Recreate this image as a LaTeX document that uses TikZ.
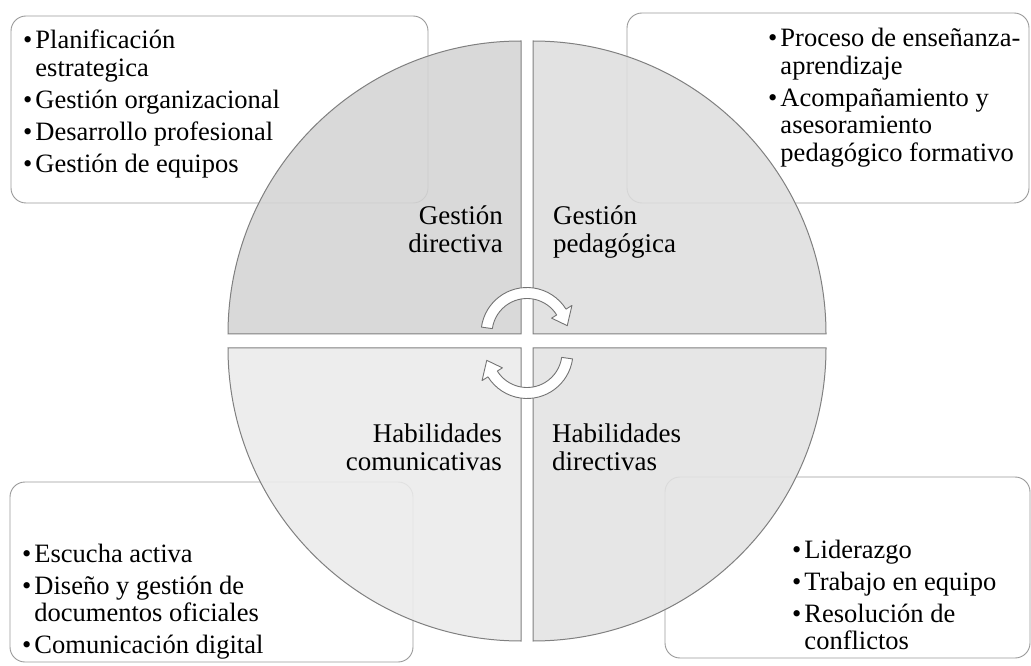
\documentclass[tikz,border=0pt]{standalone}
\usepackage{fontspec}
\setmainfont{Liberation Serif}

\tikzset{
  quadrant/.style={draw=black!50, line width=1pt, fill opacity=0.88},
  infobox/.style={draw=black!40, line width=0.9pt, fill=white, rounded corners=15pt},
  boxtext/.style={inner sep=0pt, anchor=base west, font=\fontsize{26.5}{27.5}\selectfont},
  quadlabel/.style={inner sep=0pt, font=\fontsize{27}{28}\selectfont},
  cyclearrow/.style={draw=black!55, line width=0.9pt, fill=white, line join=round},
}

% curved arrow around the centre of the circle
\newcommand{\cyclepath}{(172:46) arc[start angle=172, end angle=32, radius=46] -- (32:53) -- (11:41)
  -- (32:29) -- (32:35) arc[start angle=32, end angle=172, radius=35] -- cycle}

\begin{document}
\begin{tikzpicture}[x=1pt, y=1pt]
  \useasboundingbox (0,0) rectangle (1031,665);

  % boxes behind the circle
  \draw[infobox] (11,462) rectangle (428,649);
  \draw[infobox] (627,462) rectangle (1029,652);
  \draw[infobox] (10,3) rectangle (413,183);
  \draw[infobox] (665,7) rectangle (1030,188);

  % the four quarters
  \draw[quadrant, fill=black!17] (521,331) -- ++(-293,0) arc[start angle=180, end angle=90, radius=293] -- cycle;
  \draw[quadrant, fill=black!13] (533,331) -- ++(0,293) arc[start angle=90, end angle=0, radius=293] -- cycle;
  \draw[quadrant, fill=black!8] (521,317) -- ++(-293,0) arc[start angle=180, end angle=270, radius=293] -- cycle;
  \draw[quadrant, fill=black!11] (533,317) -- ++(293,0) arc[start angle=0, end angle=-90, radius=293] -- cycle;

  \begin{scope}[shift={(527,331.5)}]
    \draw[cyclearrow] \cyclepath;
  \end{scope}
  \begin{scope}[shift={(527,312.5)}, rotate=180]
    \draw[cyclearrow] \cyclepath;
  \end{scope}

  % labels of the quarters
  \node[quadlabel, anchor=base east] (gdir) at (503,440) {\begin{tabular}[t]{@{}r@{}}Gestión\\directiva\end{tabular}};
  \node[quadlabel, anchor=base west] (gped) at (553,440) {\begin{tabular}[t]{@{}l@{}}Gestión\\pedagógica\end{tabular}};
  \node[quadlabel, anchor=base east] (hcom) at (502,223) {\begin{tabular}[t]{@{}r@{}}Habilidades\\comunicativas\end{tabular}};
  \node[quadlabel, anchor=base west] (hdir) at (552,223) {\begin{tabular}[t]{@{}l@{}}Habilidades\\directivas\end{tabular}};

  % contents of the boxes
  \node[boxtext] (gdirlist) at (23,616) {\begin{tabular}[t]{@{}l@{\hspace{3pt}}l@{}}
    \textbullet & Planificación\\ & estrategica\\[4.5pt]
    \textbullet & Gestión organizacional\\[4.5pt]
    \textbullet & Desarrollo profesional\\[4.5pt]
    \textbullet & Gestión de equipos\end{tabular}};
  \node[boxtext] (gpedlist) at (768,618) {\begin{tabular}[t]{@{}l@{\hspace{3pt}}l@{}}
    \textbullet & Proceso de enseñanza-\\ & aprendizaje\\[4.5pt]
    \textbullet & Acompañamiento y\\ & asesoramiento\\ & pedagógico formativo\end{tabular}};
  \node[boxtext] (hcomlist) at (22,103) {\begin{tabular}[t]{@{}l@{\hspace{3pt}}l@{}}
    \textbullet & Escucha activa\\[4.5pt]
    \textbullet & Diseño y gestión de\\ & documentos oficiales\\[4.5pt]
    \textbullet & Comunicación digital\end{tabular}};
  \node[boxtext] (hdirlist) at (792,107) {\begin{tabular}[t]{@{}l@{\hspace{3pt}}l@{}}
    \textbullet & Liderazgo\\[4.5pt]
    \textbullet & Trabajo en equipo\\[4.5pt]
    \textbullet & Resolución de\\ & conflictos\end{tabular}};
\end{tikzpicture}
\end{document}
